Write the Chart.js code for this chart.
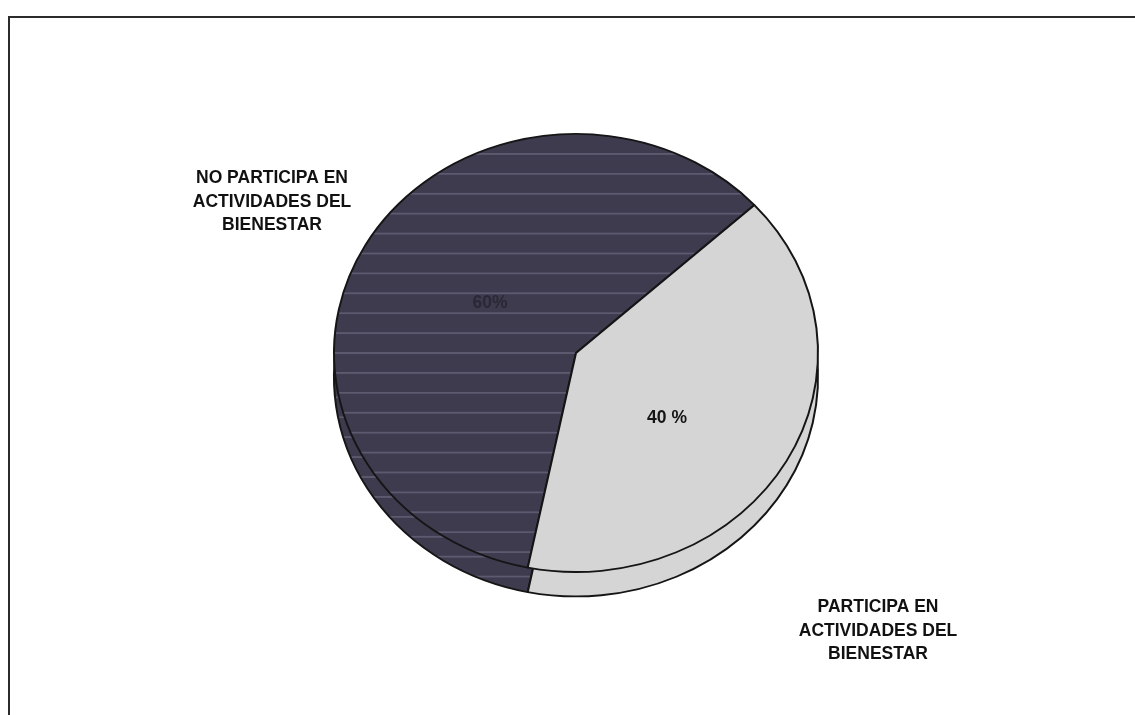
<!DOCTYPE html>
<html lang="es">
<head>
    <meta charset="UTF-8">
    <title>Participación en actividades del bienestar</title>
    <script src="https://cdn.jsdelivr.net/npm/chart.js"></script>
    <style>
        html, body {
            margin: 0;
            padding: 0;
            background: #ffffff;
        }
        .chart-box {
            position: relative;
            width: 1135px;
            height: 715px;
            overflow: hidden;
        }
        .frame {
            position: absolute;
            left: 8px;
            top: 16px;
            right: -10px;
            bottom: -10px;
            border-top: 2px solid #2b2b2b;
            border-left: 2px solid #2b2b2b;
        }
        canvas {
            position: absolute;
            left: 0;
            top: 0;
        }
    </style>
</head>
<body>
    <div class="chart-box">
        <div class="frame"></div>
        <canvas id="pieChart" width="1135" height="715"></canvas>
    </div>

    <script>
        // Data
        const categories = [
            ['NO PARTICIPA EN', 'ACTIVIDADES DEL', 'BIENESTAR'],
            ['PARTICIPA EN', 'ACTIVIDADES DEL', 'BIENESTAR']
        ];
        const values = [60, 40];
        const percentLabels = ['60%', '40 %'];

        // Dark slice gets the faint horizontal scan stripes
        function stripePattern() {
            const c = document.createElement('canvas');
            c.width = 8;
            c.height = 22;
            const g = c.getContext('2d');
            g.fillStyle = '#3e3b4f';
            g.fillRect(0, 0, 8, 22);
            g.fillStyle = '#5d5a70';
            g.fillRect(0, 0, 8, 2);
            return g.createPattern(c, 'repeat');
        }

        const squash = 0.905;   // pie is drawn slightly tilted (ellipse)
        const depth = 27;       // thickness of the pie side

        // Tilt + side of the pie
        const tiltPlugin = {
            id: 'tilt',
            beforeDatasetsDraw(chart) {
                const ctx = chart.ctx;
                const arcs = chart.getDatasetMeta(0).data;
                const cx = arcs[0].x, cy = arcs[0].y;
                ctx.save();
                ctx.translate(cx, cy);
                ctx.scale(1, squash);
                ctx.translate(-cx, -cy);
                // draw the side first, pushed down
                ctx.save();
                ctx.translate(0, depth);
                arcs.forEach(a => a.draw(ctx));
                ctx.restore();
            },
            afterDatasetsDraw(chart) {
                chart.ctx.restore();
            }
        };

        // Text labels around and inside the pie
        const labelPlugin = {
            id: 'pieLabels',
            afterDraw(chart, args, opts) {
                const ctx = chart.ctx;
                const arc = chart.getDatasetMeta(0).data[0];
                const cx = arc.x, cy = arc.y;
                ctx.save();
                ctx.textAlign = 'center';
                ctx.textBaseline = 'middle';
                ctx.font = 'bold 17.5px "Liberation Sans", Arial, sans-serif';
                categories.forEach((lines, i) => {
                    const p = opts.outer[i];
                    ctx.fillStyle = '#111111';
                    lines.forEach((line, j) => {
                        const y = cy + p.dy + (j - (lines.length - 1) / 2) * 23.5;
                        ctx.fillText(line, cx + p.dx, y);
                    });
                });
                ctx.font = 'bold 17.5px "Liberation Sans", Arial, sans-serif';
                percentLabels.forEach((txt, i) => {
                    const p = opts.inner[i];
                    ctx.fillStyle = opts.innerColors[i];
                    ctx.fillText(txt, cx + p.dx, cy + p.dy);
                });
                ctx.restore();
            }
        };

        const ctx = document.getElementById('pieChart').getContext('2d');
        new Chart(ctx, {
            type: 'pie',
            data: {
                labels: categories.map(l => l.join(' ')),
                datasets: [{
                    data: values,
                    backgroundColor: [stripePattern(), '#d5d5d5'],
                    borderColor: '#151515',
                    borderWidth: 2,
                    clip: false
                }]
            },
            options: {
                responsive: false,
                animation: false,
                rotation: 191.5,
                layout: {
                    padding: { left: 17, right: 0, top: 110, bottom: 119 }
                },
                plugins: {
                    legend: { display: false },
                    tooltip: { enabled: false },
                    pieLabels: {
                        outer: [{ dx: -304, dy: -151 }, { dx: 302, dy: 278 }],
                        inner: [{ dx: -86, dy: -50 }, { dx: 91, dy: 65 }],
                        innerColors: ['#2a2834', '#151515']
                    }
                }
            },
            plugins: [tiltPlugin, labelPlugin]
        });
    </script>
</body>
</html>
